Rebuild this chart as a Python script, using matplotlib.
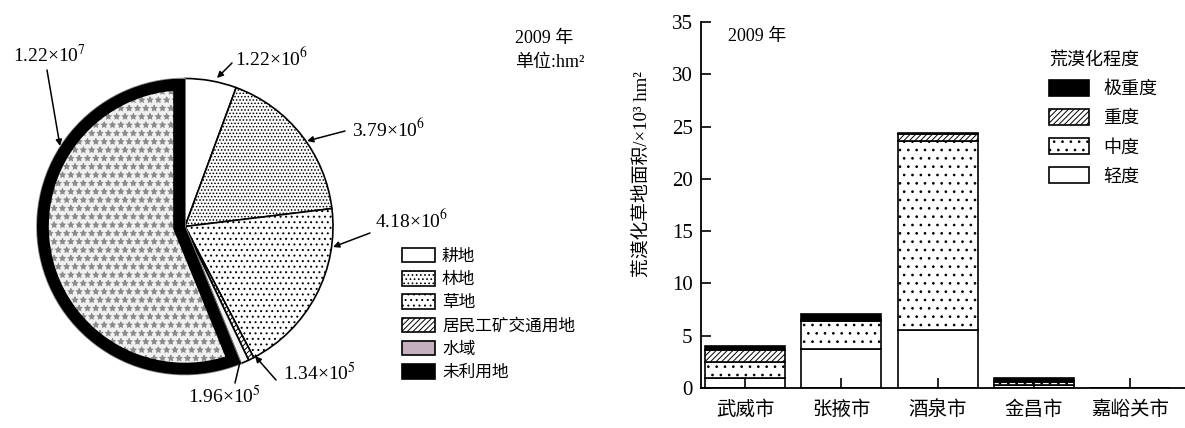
import matplotlib.pyplot as plt
import matplotlib.patches as mpatches
import numpy as np

plt.rcParams['font.family'] = ['Liberation Serif', 'Noto Sans CJK SC']
plt.rcParams['mathtext.fontset'] = 'stix'
plt.rcParams['hatch.linewidth'] = 0.7
plt.rcParams['axes.unicode_minus'] = False

# Left chart: land use, 2009, hm2
land_types = ['耕地', '林地', '草地', '居民工矿交通用地', '水域', '未利用地']
land_area = [1.22e6, 3.79e6, 4.18e6, 1.34e5, 1.96e5, 1.22e7]

# Right chart: desertified grassland, x10^3 hm2
cities = ['武威市', '张掖市', '酒泉市', '金昌市', '嘉峪关市']
levels = ['轻度', '中度', '重度', '极重度']
light = [0.95, 3.7, 5.5, 0.3, 0]
moderate = [1.55, 2.7, 18.1, 0.3, 0]
severe = [1.1, 0.1, 0.7, 0.05, 0]
extreme = [0.4, 0.55, 0.1, 0.35, 0]

W, H = 1185, 428
fig = plt.figure(figsize=(W / 100, H / 100), dpi=100)


def px(x, y):
    # pixel position measured from the top-left corner
    return (x, H - y)


def sci_label(v):
    e = int(np.floor(np.log10(v)))
    return f'{v / 10**e:.2f}×10$^{{{e}}}$'


# ---- pie ----
axp = fig.add_axes([37 / W, (H - 374.5) / H, 296 / W, 296 / H])
faces = ['white', 'white', 'white', 'white', '#f4f4f4', '#f0f0f0']
hatches = [None, '.....', '...', '//////', None, '**']
edges = ['black', 'black', 'black', 'black', 'black', '#8a8a8a']
wedges, _ = axp.pie(land_area, startangle=90, counterclock=False, radius=1,
                    wedgeprops=dict(linewidth=1.2))
for w, fc, ht, ec in zip(wedges, faces, hatches, edges):
    w.set_facecolor(fc)
    w.set_edgecolor(ec)
    if ht:
        w.set_hatch(ht)
# thick black band inside the unused-land wedge
uw = wedges[-1]
band = mpatches.Wedge(uw.center, uw.r, uw.theta1, uw.theta2, fill=False,
                      edgecolor='black', linewidth=17)
axp.add_patch(band)
band.set_clip_path(uw)
axp.set_xlim(-1, 1)
axp.set_ylim(-1, 1)

# value labels with arrows (same order as land_types)
label_pos = [(235, 58), (352, 129), (375, 220), (283, 373), (188, 396), (13, 55)]
arrow_from = [(232, 63), (345, 131), (370, 233), (276, 380), (235, 383), (47, 70)]
arrow_to = [(217, 78), (307, 141), (333, 247), (255, 356), (240, 362), (60, 146)]
for i, v in enumerate(land_area):
    fig.text(*px(*label_pos[i]), sci_label(v), fontsize=14, ha='left', va='center',
             transform=None)
    style = '-' if i == 4 else '-|>'
    axp.annotate('', xy=px(*arrow_to[i]), xytext=px(*arrow_from[i]),
                 xycoords='figure pixels', textcoords='figure pixels',
                 arrowprops=dict(arrowstyle=style, color='black', lw=1.1,
                                 mutation_scale=9, shrinkA=0, shrinkB=0))

fig.text(*px(515, 38), '2009 年', fontsize=13, ha='left', va='center', transform=None)
fig.text(*px(515, 63), '单位:hm²', fontsize=13, ha='left', va='center', transform=None)

leg_faces = ['white', 'white', 'white', 'white', '#c4b0bf', 'black']
leg_hatch = [None, '....', '...', '//////', None, None]
leg_handles = [mpatches.Patch(facecolor=f, hatch=h, edgecolor='black', linewidth=1.2)
               for f, h in zip(leg_faces, leg_hatch)]
fig.legend(leg_handles, land_types, loc='upper left',
           bbox_to_anchor=(402 / W, 1 - 248 / H), frameon=False, fontsize=12,
           handlelength=2.0, handleheight=0.95, labelspacing=0.38,
           handletextpad=0.4, borderpad=0, borderaxespad=0)

# ---- stacked bars ----
axb = fig.add_axes([701 / W, 1 - 388 / H, (W - 701) / W, (388 - 22) / H])
x = np.arange(len(cities))
series = [light, moderate, severe, extreme]
bar_faces = ['white', 'white', 'white', 'black']
bar_hatch = [None, '..', '//////', None]
bottom = np.zeros(len(cities))
containers = []
for vals, fc, ht in zip(series, bar_faces, bar_hatch):
    c = axb.bar(x, vals, 0.83, bottom=bottom, facecolor=fc, hatch=ht,
                edgecolor='black', linewidth=1.2, zorder=1)
    containers.append(c)
    bottom += np.array(vals)

axb.set_axisbelow(False)
axb.set_xlim(-0.457, 4.57)
axb.set_ylim(0, 35)
axb.set_yticks(np.arange(0, 36, 5))
axb.set_xticks(x)
axb.set_xticklabels(cities, fontsize=14)
axb.tick_params(axis='y', direction='in', length=7, width=1.2, labelsize=15, pad=6)
axb.tick_params(axis='x', direction='in', length=7, width=1.2, pad=9)
for s in ['top', 'right']:
    axb.spines[s].set_visible(False)
for s in ['left', 'bottom']:
    axb.spines[s].set_linewidth(1.3)

fig.text(*px(728, 37), '2009 年', fontsize=13, ha='left', va='center', transform=None)
fig.text(*px(642, 174), '荒漠化草地面积/×10³ hm²', fontsize=13.5,
         rotation=90, ha='center', va='center', transform=None)

leg = axb.legend([c[0] for c in containers[::-1]], levels[::-1], title='荒漠化程度',
                 loc='upper left', bbox_to_anchor=(1049 / W, 1 - 52 / H),
                 bbox_transform=fig.transFigure, frameon=False, fontsize=13,
                 title_fontsize=13, handlelength=2.2, handleheight=1.0,
                 labelspacing=0.6, handletextpad=0.8, borderpad=0,
                 borderaxespad=0, alignment='left')

fig.savefig('out.png', dpi=100)
